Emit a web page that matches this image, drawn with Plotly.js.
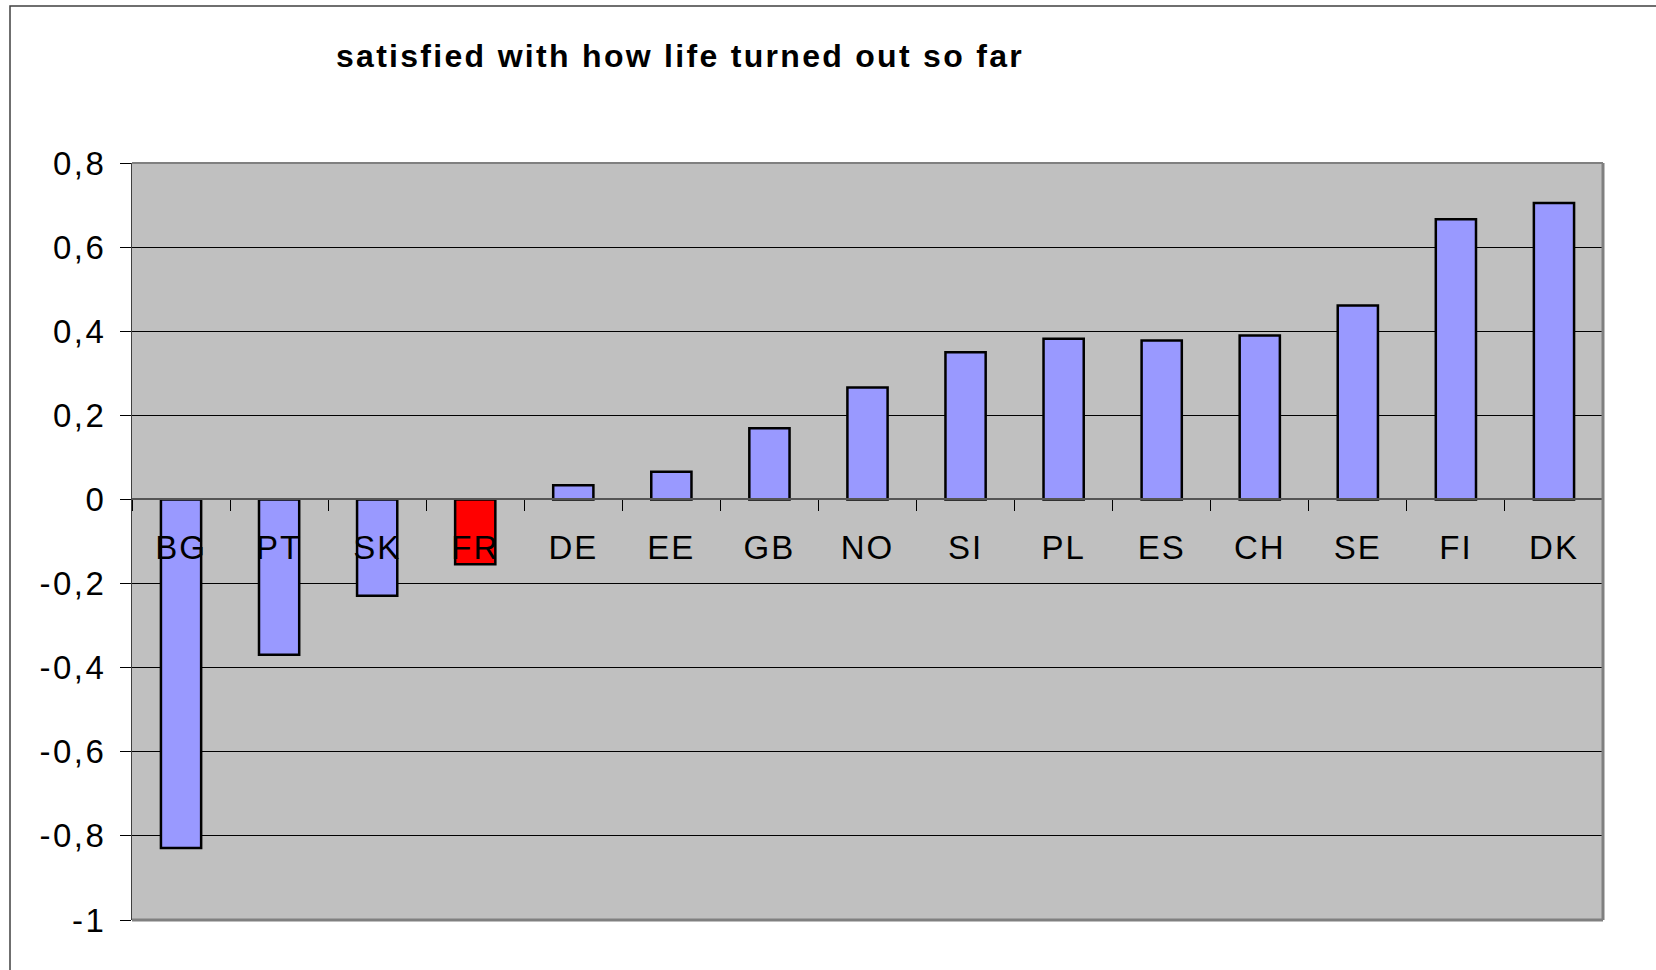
<!DOCTYPE html>
<html>
<head>
<meta charset="utf-8">
<script src="https://cdn.plot.ly/plotly-3.0.1.min.js"></script>
<style>
  html, body { margin: 0; padding: 0; background: #ffffff; }
  #chart { width: 1656px; height: 970px; }
  #chart .gtitle { letter-spacing: 2.3px; }
  #chart .ytick text { letter-spacing: 2.5px; }
  #chart .xtick text { letter-spacing: 2px; }
</style>
</head>
<body>
<div id="chart"></div>
<script>
// ---- data ----
const countries = ["BG", "PT", "SK", "FR", "DE", "EE", "GB", "NO", "SI", "PL", "ES", "CH", "SE", "FI", "DK"];
const values = [-0.829, -0.369, -0.229, -0.154, 0.034, 0.066, 0.169, 0.266, 0.350, 0.382, 0.378, 0.390, 0.461, 0.666, 0.705];
const highlighted = ["FR"];
const yTickValues = [0.8, 0.6, 0.4, 0.2, 0, -0.2, -0.4, -0.6, -0.8, -1];
const yTickLabels = ["0,8", "0,6", "0,4", "0,2", "0", "-0,2", "-0,4", "-0,6", "-0,8", "-1"];
const yRange = [-1, 0.8];
const chartTitle = "satisfied with how life turned out so far";

// ---- layout geometry ----
const W = 1656, H = 970;
const M = { l: 132, r: 53, t: 163, b: 50 };
const plotW = W - M.l - M.r, plotH = H - M.t - M.b;
const px2paperX = x => (x - M.l) / plotW;
const px2paperY = y => (H - M.b - y) / plotH;
const zeroPos = (0 - yRange[0]) / (yRange[1] - yRange[0]);

const barColors = countries.map(c => highlighted.includes(c) ? "#FF0000" : "#9999FF");

const trace = {
  type: "bar",
  x: countries,
  y: values,
  marker: { color: barColors, line: { color: "#000000", width: 2.5 } },
  hoverinfo: "x+y"
};

const layout = {
  width: W, height: H,
  margin: M,
  paper_bgcolor: "#ffffff",
  plot_bgcolor: "#C0C0C0",
  showlegend: false,
  bargap: 0.59,
  font: { family: "Liberation Sans, Arial, sans-serif", color: "#000000" },
  title: {
    text: "<b>" + chartTitle + "</b>",
    font: { family: "Liberation Sans, Arial, sans-serif", size: 32, color: "#000000" },
    xref: "container", yref: "container",
    x: 680 / W, xanchor: "center",
    y: 1 - 56 / H, yanchor: "middle"
  },
  xaxis: {
    type: "category",
    anchor: "free",
    position: zeroPos,
    showline: true, linecolor: "#555555", linewidth: 2,
    ticks: "outside", ticklen: 11, tickwidth: 1, tickcolor: "#000000",
    tickson: "boundaries",
    ticklabelstandoff: 19,
    tickfont: { size: 33, color: "#000000" },
    showgrid: false, zeroline: false,
    fixedrange: true
  },
  yaxis: {
    range: yRange,
    tickvals: yTickValues,
    ticktext: yTickLabels,
    ticks: "outside", ticklen: 11, tickwidth: 1, tickcolor: "#000000",
    ticklabelstandoff: 7,
    tickfont: { size: 33, color: "#000000" },
    showline: true, linecolor: "#404040", linewidth: 1,
    showgrid: true, gridcolor: "#000000", gridwidth: 1,
    zeroline: false,
    fixedrange: true
  },
  shapes: [
    { type: "line", xref: "paper", yref: "paper", x0: 0, x1: 1, y0: 1, y1: 1,
      line: { color: "#808080", width: 2 } },
    { type: "line", xref: "paper", yref: "paper", x0: 1, x1: 1, y0: 0, y1: 1,
      line: { color: "#808080", width: 3 } },
    { type: "line", xref: "paper", yref: "paper", x0: 0, x1: 1, y0: 0, y1: 0,
      line: { color: "#808080", width: 3 } },
    { type: "rect", xref: "paper", yref: "paper", layer: "above",
      x0: px2paperX(10), x1: px2paperX(W + 20), y0: px2paperY(H + 20), y1: px2paperY(6),
      line: { color: "#404040", width: 1.5 }, fillcolor: "rgba(0,0,0,0)" }
  ]
};

Plotly.newPlot("chart", [trace], layout, { displayModeBar: false, staticPlot: true });
</script>
</body>
</html>
